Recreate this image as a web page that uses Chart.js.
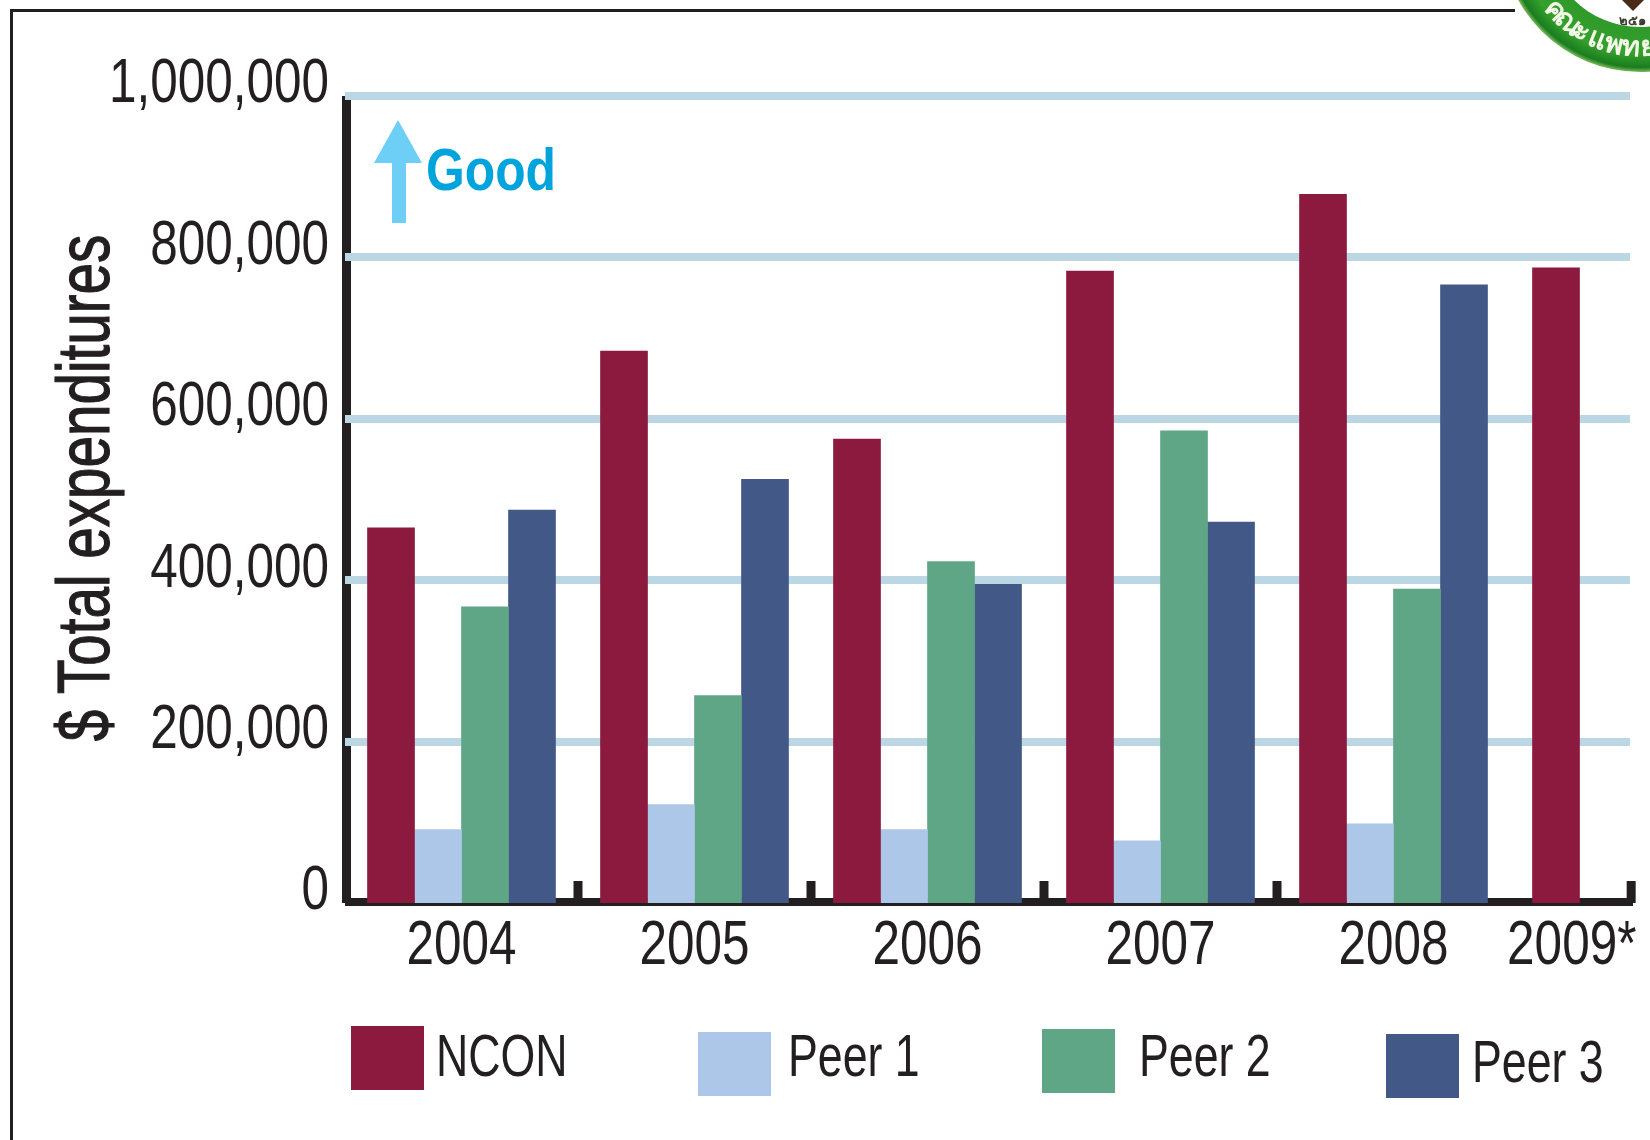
<!DOCTYPE html>
<html>
<head>
<meta charset="utf-8">
<title>Total expenditures</title>
<script src="https://cdn.jsdelivr.net/npm/chart.js@4"></script>
<style>
  html, body { margin: 0; background: #fff; overflow: hidden; }
  canvas { display: block; }
</style>
</head>
<body>
<canvas id="bar-chart" width="1650" height="1140"></canvas>
<script>
const years = ['2004', '2005', '2006', '2007', '2008', '2009*'];
const ncon = [465000, 684000, 575000, 783000, 878000, 787000];
const peer1 = [91000, 122000, 91000, 77000, 98000, null];
const peer2 = [367000, 257000, 423000, 585000, 389000, null];
const peer3 = [487000, 525000, 395000, 472000, 766000, null];
const yTicks = [0, 200000, 400000, 600000, 800000, 1000000];
const seriesNames = ['NCON', 'Peer 1', 'Peer 2', 'Peer 3'];
const seriesColors = ['#8c1a3f', '#adc7e8', '#5ea686', '#425886'];

const axisColor = '#231f20';
const sans = '"Liberation Sans", Arial, sans-serif';

// label spots on the x scale, the last one sits left of its slot in the original
const labelSpots = [0, 1, 2, 3, 4, 4.765];
const dividers = [0.5, 1.5, 2.5, 3.5, 5.02];
const legendSpots = [
  { x: 351, y: 1026, textX: 436, textY: 1076 },
  { x: 698, y: 1032, textX: 788, textY: 1076 },
  { x: 1042, y: 1029, textX: 1139, textY: 1076 },
  { x: 1386, y: 1034, textX: 1472, textY: 1082 }
];

const toPoints = (values) => values.map((y, x) => ({ x, y }));

// the original is set in a narrow face that is not installed, so squeeze the text
let squeeze = 0.785;
const canvas = document.getElementById('bar-chart');
const ctx2d = canvas.getContext('2d');
const rawFillText = ctx2d.fillText.bind(ctx2d);
ctx2d.fillText = (text, x, y) => {
  ctx2d.save();
  ctx2d.translate(x, y);
  ctx2d.scale(squeeze, 1);
  rawFillText(text, 0, 0);
  ctx2d.restore();
};

const drawSeal = (ctx) => {
  const cx = 1640, cy = -67;
  const ring = ctx.createRadialGradient(cx, cy, 94, cx, cy, 139);
  ring.addColorStop(0, '#2f9a2a');
  ring.addColorStop(0.6, '#35a02c');
  ring.addColorStop(0.9, '#1a7d1f');
  ring.addColorStop(1, '#7dbb5c');
  ctx.fillStyle = ring;
  ctx.beginPath();
  ctx.arc(cx, cy, 139, 0, Math.PI * 2);
  ctx.fill();
  ctx.fillStyle = '#fff';
  ctx.beginPath();
  ctx.arc(cx, cy, 94, 0, Math.PI * 2);
  ctx.fill();

  // emblem tip inside the ring
  ctx.fillStyle = '#4a2a18';
  ctx.beginPath();
  ctx.moveTo(1622, 0);
  ctx.lineTo(1644, 0);
  ctx.lineTo(1633, 11);
  ctx.closePath();
  ctx.fill();

  squeeze = 1;
  ctx.textAlign = 'center';
  ctx.textBaseline = 'middle';
  ctx.fillStyle = '#3a3a30';
  ctx.font = 'bold 13px "Noto Sans", sans-serif';
  ctx.fillText('๒๕๑', 1632, 21);

  // lettering along the ring
  ctx.fillStyle = '#f4f8e8';
  ctx.font = 'bold 28px "Noto Sans", sans-serif';
  const letters = 'คณะแพทย';
  [...letters].forEach((ch, i) => {
    const a = 2.4 - i * 0.15;
    ctx.save();
    ctx.translate(cx + Math.cos(a) * 115, cy + Math.sin(a) * 115);
    ctx.rotate(a - Math.PI / 2);
    ctx.fillText(ch, 0, 0);
    ctx.restore();
  });
  squeeze = 0.785;
};

const pagePlugin = {
  id: 'pageDecor',
  beforeDraw(chart) {
    const { ctx, chartArea, scales } = chart;
    ctx.save();
    ctx.fillStyle = '#fff';
    ctx.fillRect(0, 0, chart.width, chart.height);

    // frame, cut off by the seal on the right
    ctx.fillStyle = axisColor;
    ctx.fillRect(10, 9, 1505, 3);
    ctx.fillRect(10, 9, 3, 1131);
    drawSeal(ctx);

    // axes and the stubs between the year groups
    ctx.fillStyle = axisColor;
    ctx.fillRect(chartArea.left - 3, chartArea.top, 9, chartArea.height);
    ctx.fillRect(chartArea.left, chartArea.bottom - 5, chartArea.width + 3, 8);
    dividers.forEach((d) => {
      ctx.fillRect(scales.x.getPixelForValue(d) - 4.5, chartArea.bottom - 22, 9, 22);
    });
    ctx.restore();
  },
  afterDraw(chart) {
    const { ctx } = chart;
    ctx.save();

    // y title, stroked a little because the original is heavier than regular
    ctx.save();
    ctx.translate(109, 488);
    ctx.rotate(-Math.PI / 2);
    ctx.fillStyle = axisColor;
    ctx.strokeStyle = axisColor;
    ctx.lineWidth = 1.2;
    ctx.font = '74px ' + sans;
    ctx.textAlign = 'center';
    ctx.textBaseline = 'alphabetic';
    squeeze = 0.765;
    ctx.fillText('$ Total expenditures', 0, 0);
    ctx.scale(squeeze, 1);
    ctx.strokeText('$ Total expenditures', 0, 0);
    ctx.restore();

    // "Good" arrow
    ctx.fillStyle = '#6dcff6';
    ctx.beginPath();
    ctx.moveTo(398, 120);
    ctx.lineTo(422, 163);
    ctx.lineTo(406, 163);
    ctx.lineTo(406, 223);
    ctx.lineTo(392, 223);
    ctx.lineTo(392, 163);
    ctx.lineTo(374, 163);
    ctx.closePath();
    ctx.fill();
    ctx.fillStyle = '#00a4dc';
    ctx.font = 'bold 60px ' + sans;
    ctx.textAlign = 'left';
    ctx.textBaseline = 'alphabetic';
    squeeze = 0.83;
    ctx.fillText('Good', 426, 190);

    // legend
    squeeze = 0.745;
    seriesNames.forEach((name, i) => {
      const spot = legendSpots[i];
      ctx.fillStyle = seriesColors[i];
      ctx.fillRect(spot.x, spot.y, 73, 64);
      ctx.fillStyle = axisColor;
      ctx.font = '60px ' + sans;
      ctx.fillText(name, spot.textX, spot.textY);
    });
    squeeze = 0.785;
    ctx.restore();
  }
};

new Chart(canvas, {
  type: 'bar',
  plugins: [pagePlugin],
  data: {
    datasets: seriesNames.map((label, i) => ({
      label,
      data: toPoints([ncon, peer1, peer2, peer3][i]),
      backgroundColor: seriesColors[i],
      barThickness: 47
    }))
  },
  options: {
    responsive: false,
    animation: false,
    layout: { padding: { top: 96, right: 20 } },
    plugins: { legend: { display: false }, tooltip: { enabled: false } },
    scales: {
      x: {
        type: 'linear',
        offset: false,
        min: -0.5,
        max: 5.015,
        afterFit: (s) => {
          s.height = 237;
          s.paddingLeft = 0;
          s.paddingRight = 0;
        },
        afterBuildTicks: (s) => { s.ticks = labelSpots.map((value) => ({ value })); },
        grid: { display: false },
        border: { display: false },
        ticks: {
          autoSkip: false,
          maxRotation: 0,
          padding: -2,
          color: axisColor,
          font: { family: sans, size: 63 },
          callback: (value, i) => years[i]
        }
      },
      y: {
        min: 0,
        max: 1000000,
        afterFit: (s) => { s.width = 345; },
        afterBuildTicks: (s) => { s.ticks = yTicks.map((value) => ({ value })); },
        grid: {
          drawTicks: false,
          color: '#bcd7e4',
          // no line at zero, the bars have to reach down into the axis
          lineWidth: (c) => (c.tick && c.tick.value === 0 ? 0 : 8)
        },
        border: { display: false },
        ticks: {
          padding: 16,
          labelOffset: -11,
          color: axisColor,
          font: { family: sans, size: 63 },
          callback: (value) => value.toLocaleString('en-US')
        }
      }
    }
  }
});
</script>
</body>
</html>
